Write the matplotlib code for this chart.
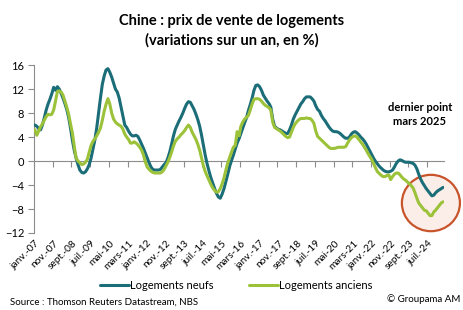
import matplotlib.pyplot as plt
import numpy as np
from matplotlib.patches import Ellipse

# variations sur un an (%), mensuel, janv. 2007 -> mars 2025
neufs = [6.0, 5.8, 5.4, 5.2, 6.0, 7.2, 8.5, 9.5, 10.3, 11.2, 12.3, 11.8,
         12.4, 12.0, 11.3, 10.5, 9.6, 8.6, 7.3, 5.5, 3.5, 1.8, 0.5, -0.6,
         -1.5, -1.9, -2.0, -1.8, -1.3, -0.6, 0.5, 2.0, 3.5, 5.5, 8.0, 10.5,
         12.8, 14.2, 15.2, 15.4, 14.8, 14.0, 13.0, 12.0, 11.5, 10.5, 9.0, 7.5,
         6.0, 5.6, 5.0, 4.5, 4.2, 4.2, 4.3, 4.1, 3.5, 2.8, 2.1, 1.3,
         0.5, -0.3, -1.0, -1.4, -1.5, -1.5, -1.5, -1.4, -1.0, -0.6, -0.3, 0.5,
         1.5, 2.8, 4.2, 5.3, 6.0, 6.7, 7.3, 8.0, 8.8, 9.5, 9.9, 9.8,
         9.2, 8.6, 7.8, 6.9, 5.8, 4.3, 2.6, 0.9, -0.5, -1.7, -2.8, -3.7,
         -4.6, -5.4, -6.0, -6.2, -5.5, -4.6, -3.4, -2.2, -0.9, 0.1, 1.0, 2.0,
         3.0, 3.7, 4.6, 5.5, 6.4, 7.2, 8.4, 9.4, 10.5, 11.8, 12.6, 12.7,
         12.4, 11.8, 11.0, 10.5, 10.0, 9.6, 9.0, 7.0, 5.8, 5.5, 5.3, 5.2,
         5.0, 4.8, 4.6, 4.6, 5.2, 6.0, 7.0, 7.7, 8.3, 8.9, 9.5, 9.9,
         10.4, 10.7, 10.7, 10.7, 10.4, 10.0, 9.2, 8.6, 8.3, 7.6, 7.1, 6.7,
         6.2, 5.7, 5.3, 5.0, 4.9, 4.9, 4.8, 4.6, 4.3, 4.0, 3.8, 3.8,
         4.0, 4.5, 4.8, 4.9, 4.7, 4.4, 4.0, 3.7, 3.3, 2.8, 2.2, 1.6,
         1.0, 0.4, -0.1, -0.5, -0.9, -1.2, -1.5, -1.7, -1.8, -1.8, -1.7, -1.5,
         -1.0, -0.4, 0.0, 0.2, 0.1, -0.1, -0.2, -0.2, -0.2, -0.3, -0.4, -0.7,
         -1.3, -2.2, -3.0, -3.6, -4.1, -4.6, -5.0, -5.4, -5.8, -5.7, -5.3, -5.0,
         -4.8, -4.6, -4.4]

anciens = [5.2, 4.3, 5.0, 5.7, 6.2, 6.8, 7.4, 7.8, 7.7, 7.8, 8.5, 10.0,
           11.6, 11.7, 11.5, 11.0, 10.0, 9.0, 7.8, 6.2, 4.7, 2.5, 0.5, 0.0,
           -0.3, -0.6, -0.5, -0.2, 0.3, 1.5, 2.6, 3.3, 3.7, 4.2, 4.8, 5.5,
           6.8, 8.3, 9.5, 10.4, 9.5, 8.0, 7.0, 6.5, 6.2, 6.0, 5.8, 5.3,
           4.5, 4.0, 3.6, 3.0, 3.0, 3.2, 3.0, 2.7, 2.3, 1.8, 1.0, -0.2,
           -1.0, -1.4, -1.7, -1.9, -2.0, -2.0, -2.0, -2.0, -1.8, -1.4, -0.8, -0.2,
           0.6, 1.5, 2.5, 3.3, 3.7, 4.0, 4.4, 4.7, 5.1, 5.6, 6.0, 5.6,
           4.8, 4.2, 3.6, 2.8, 1.8, 0.5, -0.8, -1.8, -2.5, -3.2, -3.9, -4.5,
           -4.9, -5.2, -5.1, -4.6, -3.8, -2.8, -1.5, -0.3, 0.6, 1.5, 2.3, 2.6,
           4.9, 4.2, 5.8, 6.5, 7.0, 7.3, 7.6, 8.5, 9.5, 10.3, 10.4, 10.4,
           10.3, 10.0, 9.6, 9.3, 9.1, 8.9, 8.5, 6.5, 5.6, 5.4, 5.2, 5.0,
           4.7, 4.4, 4.1, 3.9, 4.0, 4.8, 5.6, 6.2, 6.6, 6.9, 7.1, 7.1,
           7.1, 7.2, 7.1, 7.1, 6.8, 6.3, 5.0, 4.1, 3.8, 3.5, 3.2, 2.9,
           2.6, 2.3, 2.1, 2.1, 2.1, 2.2, 2.3, 2.3, 2.3, 2.3, 2.4, 3.0,
           3.5, 3.9, 4.1, 4.2, 4.0, 3.6, 3.2, 2.8, 2.3, 1.8, 1.2, 0.7,
           0.2, -0.5, -1.2, -1.8, -2.1, -2.4, -2.6, -2.6, -2.4, -2.3, -3.1, -2.6,
           -2.2, -2.0, -2.0, -2.3, -2.7, -3.0, -3.2, -3.5, -3.8, -4.1, -4.5, -5.3,
           -6.2, -7.0, -7.4, -7.8, -8.2, -8.3, -8.7, -9.1, -9.1, -8.5, -8.2, -7.8,
           -7.4, -7.0, -6.8]

mois = ['janv.', 'févr.', 'mars', 'avr.', 'mai', 'juin',
        'juil.', 'août', 'sept.', 'oct.', 'nov.', 'déc.']
labels = ['%s-%02d' % (mois[k % 12], (7 + k // 12) % 100) for k in range(len(neufs))]

teal = '#1b6d78'
vert = '#9cc23a'
gris = '#8c8c8c'
police = 'Lato'

plt.rcParams['font.family'] = police

fig = plt.figure(figsize=(4.63, 3.10), dpi=100)
ax = fig.add_axes([0.0734, 0.2484, 0.8856, 0.5416])

x = np.arange(len(neufs))
ax.plot(x, neufs, color=teal, lw=2.2, solid_capstyle='round', zorder=3, label='Logements neufs')
ax.plot(x, anciens, color=vert, lw=2.2, solid_capstyle='round', zorder=4, label='Logements anciens')

ax.set_xlim(-0.5, len(neufs) - 0.5)
ax.set_ylim(-12, 16)
ax.set_yticks(np.arange(-12, 17, 4))
ax.tick_params(axis='y', labelsize=8, length=4, color=gris, pad=3)

for s in ['top', 'right']:
    ax.spines[s].set_visible(False)
ax.spines['left'].set_color(gris)
ax.spines['bottom'].set_position(('data', 0))
ax.spines['bottom'].set_color(gris)

pos = np.arange(0, len(neufs), 10)
ax.set_xticks(pos - 0.5)
ax.tick_params(axis='x', labelbottom=False, length=4, color=gris, direction='out')

sec = ax.secondary_xaxis('bottom')
sec.set_xticks(pos)
sec.set_xticklabels([labels[k] for k in pos], rotation=45, ha='right',
                    rotation_mode='anchor', fontsize=7.3)
sec.tick_params(length=0, pad=4)
sec.spines['bottom'].set_visible(False)

# cercle autour des derniers points
ax.add_patch(Ellipse((211.5, -7.0), 31, 9.4, facecolor='#fbeee8', edgecolor='#c8542b',
                     lw=1.6, clip_on=False, zorder=2))

fig.text(0.907, 0.63, 'dernier point\nmars 2025', ha='center', va='center',
         fontsize=8, fontweight='bold', linespacing=1.35)

fig.text(0.5, 0.9, 'Chine : prix de vente de logements\n(variations sur un an, en %)',
         ha='center', va='center', fontsize=10.5, fontweight='bold', linespacing=1.4)

fig.legend(loc='center', bbox_to_anchor=(0.51, 0.08), ncol=2, frameon=False,
           fontsize=8, handlelength=2.6, handletextpad=0.1, columnspacing=3.2)

fig.text(0.022, 0.025, 'Source : Thomson Reuters Datastream, NBS', fontsize=7, va='center')
fig.text(0.995, 0.035, '© Groupama AM', fontsize=7, ha='right', va='center')

fig.savefig('out.png', dpi=100)
